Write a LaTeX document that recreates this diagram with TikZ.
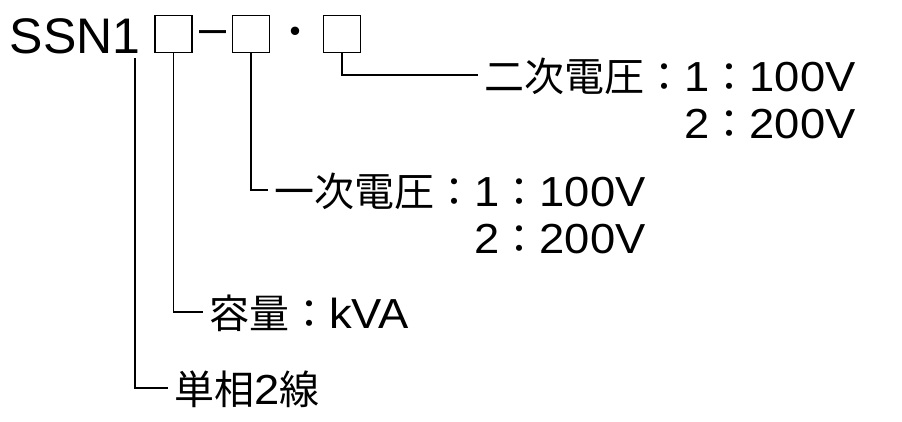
\documentclass[tikz,border=0pt]{standalone}
\usepackage{fontspec}
\setmainfont{Liberation Sans}[FakeStretch=1.08]
\newfontfamily\codefont{Liberation Sans}
\newfontfamily\jp{Noto Sans CJK JP}[Scale=0.952]
\usetikzlibrary{positioning}
\tikzset{
  box/.style={draw, line width=1.8pt, minimum size=37pt, inner sep=0pt},
  lead/.style={line width=1.2pt, shorten >=6pt},
  lbl/.style={anchor=west, inner sep=0pt, text height=38pt, text depth=5pt},
}

\begin{document}
\begin{tikzpicture}[x=1pt, y=-1pt, font=\fontsize{42}{48}\selectfont]
    \useasboundingbox (0,0) rectangle (902,421);
    \node[anchor=base west, inner sep=0pt, font=\codefont\fontsize{50}{60}\selectfont] (code) at (9.5,53) {SSN1};
    \node[box] (box1) at (173.5,34) {};
    \node[anchor=base west, inner sep=0pt, font=\fontsize{45}{54}\selectfont] (dash) at (199,43.5) {–};
    \node[box] (box2) at (251,34) {};
    \node[anchor=base, inner sep=0pt] (dot) at (295,46.5) {\jp ・};
    \node[box] (box3) at (342,34) {};
    \coordinate (code-foot) at (135,58);

    \node[lbl] (sec) at (484,75) {\jp 二次電圧：};
    \node[lbl] (sec-v1) at (sec.east) {1{\jp ：}100V};
    \node[lbl, below=4pt of sec-v1.south west, anchor=north west] (sec-v2) {2{\jp ：}200V};
    \node[lbl] (pri) at (274,190) {\jp 一次電圧：};
    \node[lbl] (pri-v1) at (pri.east) {1{\jp ：}100V};
    \node[lbl, below=4pt of pri-v1.south west, anchor=north west] (pri-v2) {2{\jp ：}200V};
    \node[lbl] (cap) at (209,312) {{\jp 容量：}kVA};
    \node[lbl] (phase) at (174,388) {{\jp 単相}2{\jp 線}};

    \draw[lead] (box3.south) |- (sec.west);
    \draw[lead] (box2.south) |- (pri.west);
    \draw[lead] (box1.south) |- (cap.west);
    \draw[lead] (code-foot) |- (phase.west);
\end{tikzpicture}
\end{document}
